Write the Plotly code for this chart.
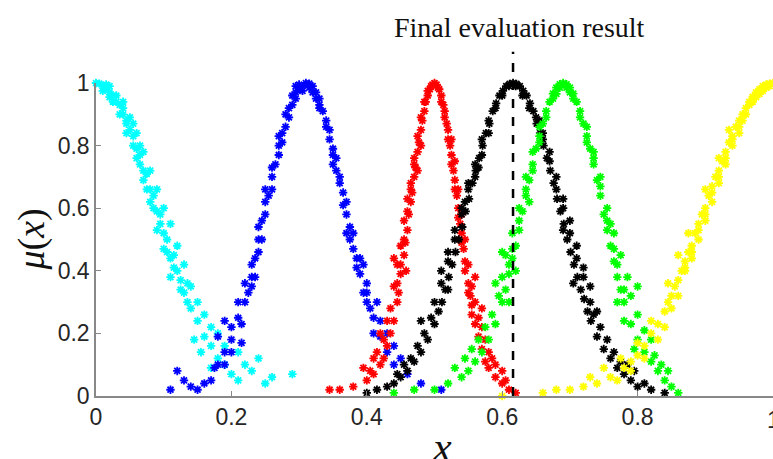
import plotly.graph_objects as go

# cloud drops (x, membership), one list per cloud
cyan_pts = [
    (0.000, 1.00), (0.005, 0.998), (0.010, 0.99), (0.015, 0.985), (0.020, 0.97), (0.025, 0.96),
    (0.030, 0.94), (0.035, 0.93), (0.040, 0.90), (0.045, 0.88), (0.050, 0.85), (0.055, 0.83),
    (0.060, 0.79), (0.065, 0.77), (0.070, 0.72), (0.075, 0.71), (0.080, 0.66), (0.085, 0.64),
    (0.090, 0.59), (0.095, 0.58), (0.100, 0.52), (0.105, 0.50), (0.110, 0.44), (0.115, 0.45),
    (0.120, 0.40), (0.125, 0.37), (0.130, 0.33), (0.135, 0.30), (0.140, 0.28), (0.150, 0.24),
    (0.160, 0.19), (0.170, 0.16), (0.180, 0.12), (0.190, 0.10), (0.200, 0.07), (0.210, 0.05),
    (0.230, 0.08), (0.260, 0.06), (0.290, 0.07), (0.030, 0.96), (0.040, 0.92), (0.050, 0.89),
    (0.060, 0.84), (0.070, 0.78), (0.080, 0.72), (0.090, 0.66), (0.100, 0.60), (0.080, 0.62),
    (0.110, 0.55), (0.120, 0.48), (0.110, 0.38), (0.130, 0.42), (0.140, 0.35), (0.150, 0.30),
    (0.160, 0.26), (0.170, 0.22), (0.180, 0.20), (0.190, 0.16), (0.210, 0.14), (0.220, 0.10),
    (0.240, 0.12), (0.250, 0.04), (0.170, 0.09), (0.155, 0.14), (0.145, 0.18), (0.100, 0.47),
    (0.090, 0.53), (0.065, 0.80), (0.045, 0.87),
    (0.010, 0.975), (0.020, 0.955), (0.025, 0.94), (0.035, 0.90), (0.045, 0.84), (0.055, 0.80),
    (0.060, 0.76), (0.070, 0.69), (0.075, 0.66), (0.085, 0.60), (0.095, 0.55), (0.105, 0.46),
    (0.115, 0.41), (0.125, 0.34), (0.135, 0.36), (0.020, 0.99), (0.015, 0.995), (0.040, 0.94),
    (0.055, 0.87), (0.065, 0.74),
]
blue_pts = [
    (0.310, 1.00), (0.305, 0.99), (0.300, 0.98), (0.295, 0.97), (0.290, 0.93), (0.285, 0.92),
    (0.280, 0.86), (0.275, 0.84), (0.270, 0.77), (0.265, 0.74), (0.260, 0.66), (0.255, 0.64),
    (0.250, 0.58), (0.245, 0.50), (0.240, 0.46), (0.235, 0.44), (0.230, 0.35), (0.225, 0.33),
    (0.220, 0.30), (0.215, 0.23), (0.210, 0.25), (0.200, 0.18), (0.190, 0.14), (0.180, 0.10),
    (0.170, 0.05), (0.160, 0.04), (0.150, 0.02), (0.130, 0.05), (0.110, 0.02),
    (0.270, 0.80), (0.260, 0.70), (0.250, 0.62), (0.240, 0.54), (0.230, 0.42), (0.220, 0.36),
    (0.210, 0.30), (0.200, 0.22), (0.190, 0.24), (0.180, 0.19), (0.190, 0.10), (0.200, 0.14),
    (0.120, 0.08), (0.140, 0.03), (0.175, 0.09), (0.215, 0.17), (0.235, 0.38), (0.285, 0.89),
    (0.295, 0.95), (0.275, 0.81),
    (0.315, 0.998), (0.320, 0.99), (0.325, 0.97), (0.330, 0.95), (0.335, 0.91), (0.340, 0.88),
    (0.345, 0.82), (0.350, 0.79), (0.355, 0.72), (0.360, 0.68), (0.365, 0.61), (0.370, 0.58),
    (0.375, 0.50), (0.380, 0.47), (0.385, 0.41), (0.390, 0.39), (0.400, 0.30), (0.410, 0.25),
    (0.420, 0.19), (0.430, 0.14), (0.440, 0.10), (0.460, 0.07), (0.480, 0.04), (0.510, 0.02),
    (0.330, 0.93), (0.345, 0.85), (0.355, 0.76), (0.365, 0.65), (0.375, 0.54), (0.385, 0.44),
    (0.395, 0.33), (0.405, 0.28), (0.400, 0.36), (0.410, 0.20), (0.420, 0.24), (0.430, 0.20),
    (0.440, 0.16), (0.450, 0.12), (0.415, 0.30), (0.395, 0.42), (0.370, 0.52), (0.350, 0.74),
    (0.300, 0.995), (0.290, 0.96), (0.280, 0.90), (0.270, 0.83), (0.260, 0.73), (0.250, 0.66),
    (0.245, 0.56), (0.240, 0.50), (0.230, 0.38), (0.320, 0.97), (0.330, 0.92), (0.340, 0.86),
    (0.350, 0.77), (0.360, 0.70), (0.370, 0.62), (0.380, 0.52), (0.390, 0.44), (0.400, 0.33),
    (0.315, 0.985), (0.305, 0.975), (0.325, 0.95), (0.295, 0.99),
]
red_pts = [
    (0.500, 1.00), (0.497, 0.995), (0.493, 0.98), (0.490, 0.96), (0.487, 0.94), (0.485, 0.91),
    (0.482, 0.88), (0.480, 0.85), (0.477, 0.81), (0.475, 0.78), (0.472, 0.73), (0.470, 0.70),
    (0.467, 0.65), (0.465, 0.62), (0.462, 0.58), (0.460, 0.53), (0.457, 0.49), (0.455, 0.45),
    (0.450, 0.39), (0.447, 0.33), (0.445, 0.30), (0.440, 0.24), (0.435, 0.20), (0.430, 0.16),
    (0.425, 0.12), (0.420, 0.10), (0.410, 0.07), (0.400, 0.05), (0.380, 0.03), (0.360, 0.02),
    (0.345, 0.02),
    (0.470, 0.76), (0.465, 0.68), (0.460, 0.63), (0.455, 0.56), (0.450, 0.48), (0.445, 0.42),
    (0.440, 0.35), (0.435, 0.28), (0.430, 0.24), (0.425, 0.18), (0.420, 0.20), (0.415, 0.14),
    (0.410, 0.12), (0.405, 0.08), (0.395, 0.09), (0.440, 0.44), (0.458, 0.40), (0.475, 0.72),
    (0.480, 0.80),
    (0.503, 0.995), (0.507, 0.98), (0.510, 0.96), (0.513, 0.93), (0.515, 0.91), (0.518, 0.87),
    (0.520, 0.85), (0.523, 0.80), (0.525, 0.77), (0.528, 0.72), (0.530, 0.69), (0.533, 0.64),
    (0.535, 0.60), (0.538, 0.55), (0.540, 0.52), (0.543, 0.47), (0.545, 0.43), (0.550, 0.36),
    (0.553, 0.32), (0.555, 0.29), (0.560, 0.23), (0.565, 0.19), (0.570, 0.15), (0.575, 0.11),
    (0.580, 0.09), (0.590, 0.06), (0.600, 0.04), (0.610, 0.02), (0.620, 0.01),
    (0.525, 0.82), (0.530, 0.75), (0.535, 0.66), (0.540, 0.58), (0.545, 0.50), (0.550, 0.42),
    (0.555, 0.35), (0.560, 0.30), (0.565, 0.25), (0.570, 0.22), (0.575, 0.18), (0.580, 0.14),
    (0.585, 0.12), (0.590, 0.10), (0.570, 0.28), (0.560, 0.38), (0.600, 0.08), (0.605, 0.05),
    (0.495, 0.99), (0.490, 0.975), (0.485, 0.94), (0.480, 0.89), (0.475, 0.83), (0.470, 0.74),
    (0.465, 0.66), (0.460, 0.59), (0.455, 0.50), (0.505, 0.985), (0.510, 0.94), (0.515, 0.89),
    (0.520, 0.82), (0.525, 0.74), (0.530, 0.66), (0.535, 0.57), (0.540, 0.49), (0.545, 0.40),
    (0.550, 0.33), (0.555, 0.26), (0.450, 0.42), (0.445, 0.36),
]
black_pts = [
    (0.616, 1.00), (0.611, 0.997), (0.606, 0.99), (0.601, 0.975), (0.596, 0.96), (0.591, 0.935),
    (0.586, 0.91), (0.581, 0.87), (0.576, 0.84), (0.571, 0.80), (0.566, 0.76), (0.561, 0.72),
    (0.556, 0.68), (0.551, 0.63), (0.546, 0.59), (0.541, 0.54), (0.536, 0.50), (0.531, 0.46),
    (0.526, 0.42), (0.521, 0.38), (0.516, 0.34), (0.511, 0.30), (0.506, 0.27), (0.500, 0.23),
    (0.490, 0.18), (0.480, 0.14), (0.470, 0.11), (0.460, 0.08), (0.450, 0.06), (0.440, 0.04),
    (0.430, 0.03), (0.415, 0.02), (0.400, 0.01),
    (0.580, 0.84), (0.570, 0.77), (0.560, 0.70), (0.550, 0.66), (0.540, 0.58), (0.530, 0.50),
    (0.520, 0.43), (0.510, 0.36), (0.500, 0.30), (0.495, 0.25), (0.485, 0.20), (0.475, 0.16),
    (0.465, 0.12), (0.455, 0.10), (0.445, 0.07), (0.480, 0.24), (0.520, 0.34), (0.545, 0.62),
    (0.565, 0.73),
    (0.621, 0.997), (0.626, 0.99), (0.631, 0.975), (0.636, 0.96), (0.641, 0.935), (0.646, 0.91),
    (0.651, 0.87), (0.656, 0.84), (0.661, 0.80), (0.666, 0.76), (0.671, 0.72), (0.676, 0.68),
    (0.681, 0.63), (0.686, 0.59), (0.691, 0.55), (0.696, 0.50), (0.701, 0.46), (0.706, 0.42),
    (0.711, 0.38), (0.716, 0.34), (0.721, 0.31), (0.726, 0.27), (0.731, 0.24), (0.740, 0.19),
    (0.750, 0.15), (0.760, 0.12), (0.770, 0.09), (0.780, 0.07), (0.790, 0.05), (0.800, 0.03),
    (0.820, 0.02), (0.840, 0.01),
    (0.660, 0.82), (0.670, 0.75), (0.680, 0.66), (0.690, 0.60), (0.700, 0.52), (0.710, 0.44),
    (0.720, 0.38), (0.730, 0.30), (0.735, 0.26), (0.745, 0.22), (0.755, 0.18), (0.765, 0.14),
    (0.775, 0.11), (0.785, 0.10), (0.795, 0.08), (0.810, 0.04), (0.705, 0.36), (0.690, 0.53),
    (0.655, 0.88),
    (0.610, 0.99), (0.600, 0.96), (0.590, 0.92), (0.580, 0.88), (0.570, 0.82), (0.560, 0.74),
    (0.550, 0.68), (0.540, 0.60), (0.530, 0.53), (0.520, 0.46), (0.510, 0.40), (0.620, 0.99),
    (0.630, 0.96), (0.640, 0.92), (0.650, 0.89), (0.660, 0.84), (0.670, 0.78), (0.680, 0.70),
    (0.690, 0.63), (0.700, 0.56), (0.710, 0.48), (0.720, 0.41), (0.730, 0.35), (0.740, 0.27),
]
green_pts = [
    (0.690, 1.00), (0.685, 0.996), (0.680, 0.985), (0.675, 0.966), (0.670, 0.94), (0.665, 0.91),
    (0.660, 0.87), (0.655, 0.83), (0.650, 0.79), (0.645, 0.74), (0.640, 0.69), (0.635, 0.64),
    (0.630, 0.59), (0.625, 0.53), (0.620, 0.48), (0.615, 0.44), (0.610, 0.39), (0.605, 0.34),
    (0.600, 0.30), (0.590, 0.23), (0.580, 0.18), (0.570, 0.14), (0.560, 0.11), (0.550, 0.08),
    (0.540, 0.06), (0.520, 0.04), (0.500, 0.02), (0.470, 0.02), (0.440, 0.01),
    (0.655, 0.86), (0.645, 0.78), (0.635, 0.70), (0.625, 0.60), (0.615, 0.52), (0.605, 0.45),
    (0.600, 0.38), (0.595, 0.32), (0.585, 0.26), (0.575, 0.22), (0.565, 0.18), (0.555, 0.15),
    (0.545, 0.12), (0.530, 0.09), (0.620, 0.40), (0.610, 0.30), (0.590, 0.36), (0.600, 0.46),
    (0.640, 0.62),
    (0.695, 0.996), (0.700, 0.985), (0.705, 0.966), (0.710, 0.94), (0.715, 0.91), (0.720, 0.87),
    (0.725, 0.83), (0.730, 0.79), (0.735, 0.74), (0.740, 0.69), (0.745, 0.64), (0.750, 0.58),
    (0.755, 0.53), (0.760, 0.48), (0.765, 0.43), (0.770, 0.38), (0.775, 0.34), (0.780, 0.30),
    (0.790, 0.23), (0.800, 0.18), (0.810, 0.14), (0.820, 0.11), (0.830, 0.08), (0.840, 0.05),
    (0.850, 0.03), (0.860, 0.01),
    (0.725, 0.86), (0.735, 0.78), (0.745, 0.70), (0.755, 0.60), (0.765, 0.52), (0.775, 0.45),
    (0.785, 0.38), (0.790, 0.32), (0.800, 0.26), (0.810, 0.21), (0.820, 0.18), (0.825, 0.13),
    (0.835, 0.10), (0.845, 0.08), (0.780, 0.24), (0.770, 0.30), (0.795, 0.15), (0.760, 0.55),
    (0.800, 0.35),
    (0.685, 0.985), (0.675, 0.95), (0.665, 0.89), (0.655, 0.81), (0.645, 0.72), (0.635, 0.66),
    (0.625, 0.56), (0.615, 0.47), (0.610, 0.42), (0.695, 0.985), (0.705, 0.95), (0.715, 0.89),
    (0.725, 0.81), (0.735, 0.76), (0.745, 0.67), (0.755, 0.56), (0.765, 0.47), (0.770, 0.42),
    (0.780, 0.34), (0.680, 0.965), (0.700, 0.97),
]
yellow_pts = [
    (1.000, 1.00), (0.995, 0.998), (0.990, 0.995), (0.985, 0.99), (0.980, 0.98), (0.975, 0.97),
    (0.970, 0.956), (0.965, 0.94), (0.960, 0.92), (0.955, 0.90), (0.950, 0.88), (0.945, 0.86),
    (0.940, 0.83), (0.935, 0.81), (0.930, 0.78), (0.925, 0.75), (0.920, 0.72), (0.915, 0.70),
    (0.910, 0.67), (0.905, 0.64), (0.900, 0.60), (0.895, 0.58), (0.890, 0.55), (0.885, 0.52),
    (0.880, 0.48), (0.875, 0.46), (0.870, 0.43), (0.865, 0.40), (0.860, 0.37), (0.855, 0.35),
    (0.850, 0.32), (0.845, 0.30), (0.840, 0.27), (0.830, 0.23), (0.820, 0.20), (0.810, 0.16),
    (0.800, 0.13), (0.790, 0.11), (0.780, 0.09), (0.760, 0.06), (0.740, 0.04), (0.720, 0.03),
    (0.700, 0.02), (0.680, 0.02), (0.660, 0.01), (0.600, 0.00),
    (0.950, 0.84), (0.940, 0.80), (0.930, 0.74), (0.920, 0.68), (0.910, 0.62), (0.900, 0.56),
    (0.890, 0.50), (0.880, 0.44), (0.870, 0.40), (0.860, 0.32), (0.850, 0.28), (0.840, 0.22),
    (0.830, 0.18), (0.820, 0.24), (0.810, 0.12), (0.800, 0.17), (0.790, 0.08), (0.775, 0.12),
    (0.770, 0.05), (0.750, 0.09), (0.730, 0.06), (0.900, 0.66), (0.920, 0.76), (0.935, 0.85),
    (0.875, 0.52), (0.845, 0.36), (0.860, 0.45),
    (0.990, 0.985), (0.980, 0.965), (0.970, 0.94), (0.960, 0.90), (0.950, 0.86), (0.940, 0.82),
    (0.930, 0.76), (0.920, 0.70), (0.910, 0.65), (0.900, 0.58), (0.890, 0.53), (0.880, 0.46),
    (0.870, 0.41), (0.995, 0.99), (0.985, 0.975), (0.975, 0.955), (0.965, 0.93), (0.955, 0.88),
]

final_result = 0.616
x_ticks = [0, 0.2, 0.4, 0.6, 0.8]
y_ticks = [0, 0.2, 0.4, 0.6, 0.8, 1]
x_tick_text = ["0", "0.2", "0.4", "0.6", "0.8"]
y_tick_text = ["0", "0.2", "0.4", "0.6", "0.8", "1"]

clouds = [
    (cyan_pts, "#00FFFF"),
    (blue_pts, "#0000FF"),
    (red_pts, "#FF0000"),
    (black_pts, "#000000"),
    (green_pts, "#00FF00"),
    (yellow_pts, "#FFFF00"),
]

fig = go.Figure()
for pts, color in clouds:
    xs = [p[0] for p in pts]
    ys = [p[1] for p in pts]
    fig.add_trace(go.Scatter(
        x=xs, y=ys, mode="markers", cliponaxis=False, showlegend=False,
        marker=dict(symbol="asterisk-open", size=7, color=color,
                    line=dict(color=color, width=1.8)),
    ))

# dashed line marking the final evaluation result
fig.add_shape(type="line", xref="paper", yref="paper",
              x0=final_result, x1=final_result, y0=0, y1=1.1,
              line=dict(color="black", width=2.5, dash="dash"))

serif = "Liberation Serif, Times New Roman, serif"
axis_font = dict(family="Liberation Sans, Arial", size=23, color="#262626")
fig.add_annotation(x=0.625, y=1.176, xref="paper", yref="paper",
                   text="Final evaluation result", showarrow=False,
                   xanchor="center", yanchor="middle",
                   font=dict(family=serif, size=28, color="#111111"))
fig.add_annotation(x=0.511, y=-0.163, xref="paper", yref="paper",
                   text="<i>x</i>", showarrow=False,
                   xanchor="center", yanchor="middle",
                   font=dict(family=serif, size=42, color="#111111"))
fig.add_annotation(x=-0.096, y=0.5, xref="paper", yref="paper",
                   text="<i>μ</i>(<i>x</i>)", showarrow=False, textangle=-90,
                   xanchor="center", yanchor="middle",
                   font=dict(family=serif, size=38, color="#111111"))
# last x tick label sits on the right edge of the page, half cut off
fig.add_annotation(x=1, y=0, xref="paper", yref="paper", yshift=-24,
                   text="1", showarrow=False, xanchor="center", yanchor="middle",
                   font=axis_font)

axis_style = dict(range=[0, 1], showgrid=False, zeroline=False, showline=True,
                  linecolor="#888888", linewidth=1.5, ticks="inside", ticklen=5,
                  tickcolor="#888888", tickfont=axis_font, automargin=False)
fig.update_layout(
    width=773, height=459,
    margin=dict(l=96, r=0, t=83, b=63),
    plot_bgcolor="white", paper_bgcolor="white",
    xaxis=dict(tickvals=x_ticks, ticktext=x_tick_text, **axis_style),
    yaxis=dict(tickvals=y_ticks, ticktext=y_tick_text, **axis_style),
)

# drop the page's default body margin so the figure sits at the window's corner
fig.write_html("out.html", config={"displayModeBar": False},
               post_script="document.body.style.margin='0';")
